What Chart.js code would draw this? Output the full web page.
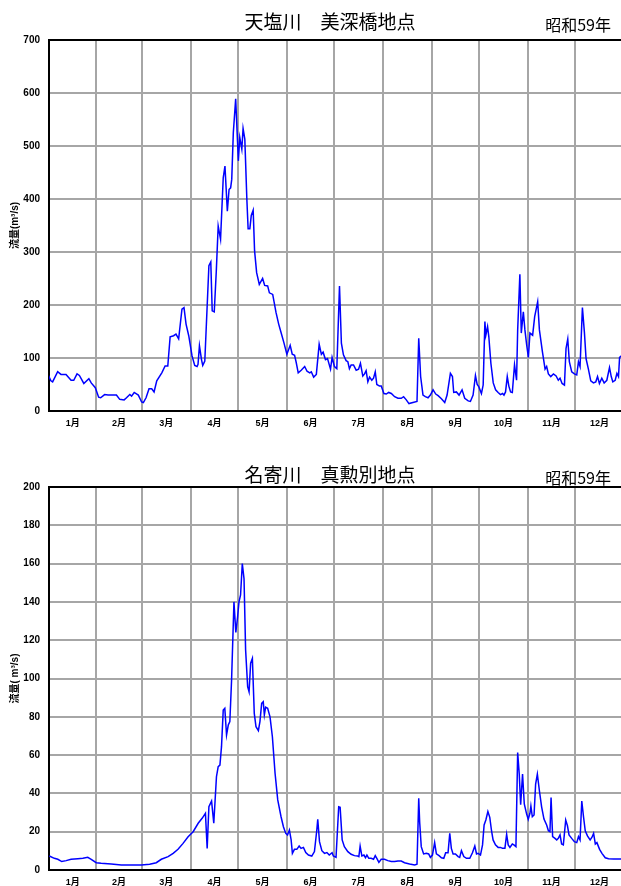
<!DOCTYPE html>
<html>
<head>
<meta charset="utf-8">
<script src="https://cdn.jsdelivr.net/npm/chart.js@4.4.0/dist/chart.umd.min.js"></script>
<style>
  html, body { margin: 0; padding: 0; overflow: hidden; background: #fff; width: 621px; height: 886px; }
  canvas { position: absolute; left: 0; }
  #c1 { top: 0; }
  #c2 { top: 443px; }
</style>
</head>
<body>
<canvas id="c1" width="631" height="443"></canvas>
<canvas id="c2" width="631" height="443"></canvas>
<script>
// 1984 (leap year) month starts, day-of-year positions
const monthStarts = [1, 31, 60, 91, 121, 152, 182, 213, 244, 274, 305, 335, 366];
const monthLabels = ['1月','2月','3月','4月','5月','6月','7月','8月','9月','10月','11月','12月'];

// 天塩川 美深橋 (m3/s)
const teshioDays = [0.7,2.2,3.3,6.5,8.6,11.8,15,16.7,18.8,20.3,23.1,26.3,27.8,30.4,32.5,33.8,36.3,38.5,40.6,43.8,45.9,48.7,50.2,52.3,53.4,55.1,57.7,59.8,60.9,62.6,64.5,66.2,67.7,69.4,72.6,74.7,76.4,77.9,80.1,81.6,83.3,85.4,86.7,88,89.7,91.8,93.5,95,95.6,96.5,97.8,98.6,99.9,102.5,103.7,104.6,105.9,107.2,108.4,109.9,111.6,112.7,114.2,115.3,116.3,117,118,119.5,120.6,121.2,122.1,123.4,124.2,125.3,126.6,127.4,128.5,129.4,130.6,131.5,132.8,134.5,136.6,137.9,139.8,140.9,143,145.1,146.8,148.3,150.1,152,154.1,155.4,156.9,157.9,159.2,161.1,163.3,164.8,166.5,167.5,169,170.7,172.5,173.9,175,176.5,177.8,179.7,
  180.7,182.2,183.7,185.4,186.6,187.9,189.6,190.7,191.7,192.8,194.3,196,197.5,198.7,200.2,201.3,202.3,203.4,204.5,205.9,207,208.1,209.1,210.8,211.9,213.6,215.1,216.6,218.3,220.4,222.5,224.6,226.1,227.8,229.5,232,234.6,235.7,236.9,238.4,239.9,241.6,243.1,244.8,246.5,248,250.1,252.2,253.7,255.8,257.1,257.9,259.6,261.3,263.2,264.9,267.1,268.5,270.2,271.7,272.8,273.8,275.5,276.6,277.7,278.3,279.4,280.2,281.5,283,284.5,286.1,287.6,288.9,289.8,290.8,291.9,292.9,294,295.1,296.5,297.8,298.5,299.9,300.8,302.1,303.1,304.2,305.3,306.3,308,309.3,311.2,312.3,314.2,315.9,316.9,318,319.5,321.2,322.9,324.3,325.4,326.7,328.2,329.2,330.3,331.3,332.8,334.5,336,337.1,338.1,339.6,340.9,341.9,343.4,344.9,346.6,348.1,349.2,350.4,351.9,353.4,355.1,356.8,357.9,358.9,360.4,361.5,362.5,363.2,364.3,366];
const teshioFlow = [67,57,55,74,69,69,58,58,70,67,52,61,53,44,26,25,31,30,30,30,22,21,25,31,28,35,30,17,16,25,42,42,36,57,72,85,85,140,142,145,136,192,195,164,142,104,86,84,88,123,97,86,94,274,281,189,187,264,349,324,440,462,377,418,421,437,525,589,513,472,516,494,533,513,399,344,344,369,379,302,261,239,250,237,236,223,220,186,164,148,129,107,124,107,105,92,72,77,84,75,72,74,64,69,126,107,111,97,99,79,
  101,84,80,236,128,106,95,93,80,87,87,77,79,90,66,70,76,55,64,58,62,74,50,47,47,33,32,35,33,27,24,24,27,21,14,16,18,137,65,30,27,25,30,40,32,29,23,16,30,71,65,35,36,30,40,24,19,18,30,67,50,46,33,49,169,143,159,140,90,53,40,35,31,33,30,36,65,47,36,35,87,58,153,258,147,187,153,125,101,147,143,178,206,153,112,79,84,70,65,70,66,58,62,52,49,118,136,93,74,70,68,93,84,195,147,99,79,57,53,55,65,52,62,53,58,82,65,55,58,71,65,101,104,105];

// 名寄川 真勲別 (m3/s)
const nayoroDays = [1.2,4.4,6.6,9.1,11.9,15,19.3,22.5,25.6,27.8,31,34.1,40.5,46.9,53.2,59.6,64.9,69.1,72.3,76.6,79.8,82.9,86.1,89.3,92.5,95.7,98.2,100.3,101.4,102.5,104.2,105.6,107.3,108.4,109.5,110.5,111.6,112.6,113.7,114.8,115.8,116.9,118.4,119.6,120.7,121.6,122.6,123.7,124.8,125.8,127.1,128,129,130.1,131.3,132.4,133.9,134.9,136,137,137.7,138.5,139.8,141.3,142.8,144.5,146.2,148.3,149.8,151.3,152.4,153.6,154.7,155.5,156.8,158.3,159.8,161,162.5,164,165.7,167.8,169.5,171,171.6,172.7,174.2,175.9,177.4,178.9,
  180.7,181.5,183.2,184.9,185.8,187.1,188.5,190.7,192.8,194.9,197,197.7,198.5,199.6,200.9,201.9,202.8,204,205.5,207,208.1,209.1,210.4,211.9,214,216.1,218.3,220.4,222.5,224.6,226.7,229.9,233.1,234.6,235.7,236.3,237.3,238.8,240.5,242,243.1,244.4,245.8,246.9,248.6,250.1,251.6,252.8,254.3,255.4,256.4,257.5,259,260.7,261.7,262.8,264.3,266,268.1,269.8,271.3,272.4,273.4,274.9,276.2,277.2,278.3,279.6,280.8,281.9,282.9,284.4,286.1,287.6,288.9,290.4,291.5,292.5,293.6,295.1,296.1,297.4,298.5,299.5,300.4,301.6,302.7,304.2,305.2,306.3,306.9,307.8,308.9,309.9,311,312.3,313.7,315.2,316.9,318,319,319.7,320.7,322.2,323.3,324.3,325.4,326.4,327.5,329,330.1,331.1,332.8,334.5,336,337.1,338.1,339.2,340.3,341.4,342.8,344.5,345.6,346.7,347.8,348.8,350.5,352,354.1,356.2,359.4,366];
const nayoroFlow = [7.3,6.1,5.6,4.4,4.9,5.6,5.9,6.1,6.6,5.6,3.8,3.5,3.1,2.6,2.6,2.6,3.0,3.8,5.6,7,8.7,10.8,13.9,17.4,20,24.4,27,29.6,11.3,33,36,24.4,48.7,54,54.8,64.4,83.5,84.4,70.5,75.7,77.5,99.2,140,124,132,140,143.6,160,152,115,95.7,93,108,110.5,81.8,74.8,72.8,77.5,87,87.9,81,85,84.4,80,69.6,50.5,36.6,27.8,22.6,19.1,18.3,20.9,15.7,8.7,10.8,10.8,12.5,11.3,11.8,9.1,7.8,7.3,9.6,20.9,26.5,14.8,10.1,8.7,9.1,7.8,
  9,7.3,6.6,33,32.7,15.7,12.2,9.6,8.2,7.5,7.3,7,12.5,7.3,7.8,6.4,7.8,6.1,6.1,5.6,7.5,6.1,4,5.6,5.6,4.9,4.4,4.4,4.7,4.7,3.8,3.1,2.6,3,37.4,24.9,12.2,8.4,8.7,8.4,6.6,7.8,14.3,8.4,7.5,6.4,6.1,9,9,19.1,11.3,8.4,8.4,7,6.6,10.1,7,6.1,6.1,9,12.5,8.4,8.7,7.8,13.1,23.5,26.1,30.5,27.5,20.5,15.7,13.1,11.8,11.8,11.3,11.3,18.6,13.1,11.8,13.6,13.1,12.2,61.3,50.1,34.1,50.1,34.5,29.2,26.5,29.6,33.4,27.8,28.7,44.9,50.1,41.4,33,26.6,23.5,20.5,20,37.9,17.4,16.5,15.7,16.5,18.3,13.6,13.1,26.1,23.1,18.3,16.5,14.8,14.3,17.4,15.7,36,27.8,20.5,17.8,15.7,17,19.1,13.6,14.3,10.8,8.7,6.4,5.9,5.7,5.7];

Chart.defaults.font.family = '"Liberation Sans", Arial, "Noto Sans CJK JP", sans-serif';
Chart.defaults.color = '#000';

// x ticks: month boundaries (grid) + month middles (labels)
const mids = monthLabels.map((m, i) => (monthStarts[i] + monthStarts[i + 1]) / 2);
const xTicks = [];
monthStarts.forEach(v => xTicks.push({ value: v, text: '' }));
mids.forEach((v, i) => xTicks.push({ value: v, text: monthLabels[i] }));
xTicks.sort((a, b) => a.value - b.value);

const titlePlugin = {
  id: 'titles',
  afterDraw(chart, args, opts) {
    const c = chart.ctx;
    c.save();
    c.fillStyle = '#000';
    c.textBaseline = 'middle';
    c.textAlign = 'center';
    c.font = '19px "Noto Sans CJK JP"';
    c.fillText(opts.text, opts.cx, opts.cy);
    c.textAlign = 'right';
    c.font = '16px "Noto Sans CJK JP"';
    c.fillText('昭和59年', 611, opts.cy + 3);
    c.restore();
  }
};

function makeChart(id, days, flow, yMax, yStep, yTitle, title, padTop, xHeight, titleY) {
  const pts = days.map((d, i) => ({ x: d, y: flow[i] }));
  return new Chart(document.getElementById(id), {
    type: 'line',
    data: {
      datasets: [{
        data: pts,
        borderColor: '#0000ff',
        borderWidth: 1.5,
        pointRadius: 0,
        tension: 0,
        fill: false
      }]
    },
    options: {
      responsive: false,
      animation: false,
      layout: { padding: { top: padTop, left: 0, right: 0, bottom: 0 } },
      plugins: {
        legend: { display: false },
        tooltip: { enabled: false },
        titles: { text: title, cx: 330, cy: titleY }
      },
      scales: {
        x: {
          type: 'linear',
          min: 1,
          max: 366,
          afterBuildTicks: s => { s.ticks = xTicks.map(t => ({ value: t.value })); },
          afterFit: s => { s.height = xHeight; },
          ticks: {
            autoSkip: false,
            maxRotation: 0,
            padding: 7,
            font: { size: 9, weight: 'bold' },
            callback: (v, i) => xTicks[i] ? xTicks[i].text : ''
          },
          grid: {
            drawTicks: false,
            lineWidth: 2,
            color: c => (c.tick && monthStarts.includes(c.tick.value)) ? '#a6a6a6' : 'rgba(0,0,0,0)'
          },
          border: { display: true, color: '#000', width: 2 }
        },
        y: {
          min: 0,
          max: yMax,
          afterFit: s => { s.width = 49; },
          ticks: {
            stepSize: yStep,
            padding: 9,
            font: { size: 10, weight: 'bold' }
          },
          grid: {
            drawTicks: false,
            lineWidth: 2,
            color: c => (c.tick && c.tick.value === yMax) ? '#000' : '#a6a6a6'
          },
          border: { display: true, color: '#000', width: 2 },
          title: {
            display: true,
            text: yTitle,
            color: '#000',
            font: { size: 10, weight: 'bold' },
            padding: { top: 9, bottom: 0 }
          }
        }
      }
    },
    plugins: [titlePlugin]
  });
}

makeChart('c1', teshioDays, teshioFlow, 700, 100, '流量(m³/s)', '天塩川　美深橋地点', 40, 32, 22);
makeChart('c2', nayoroDays, nayoroFlow, 200, 20, '流量( m³/s)', '名寄川　真勲別地点', 44, 16, 32);
</script>
</body>
</html>
